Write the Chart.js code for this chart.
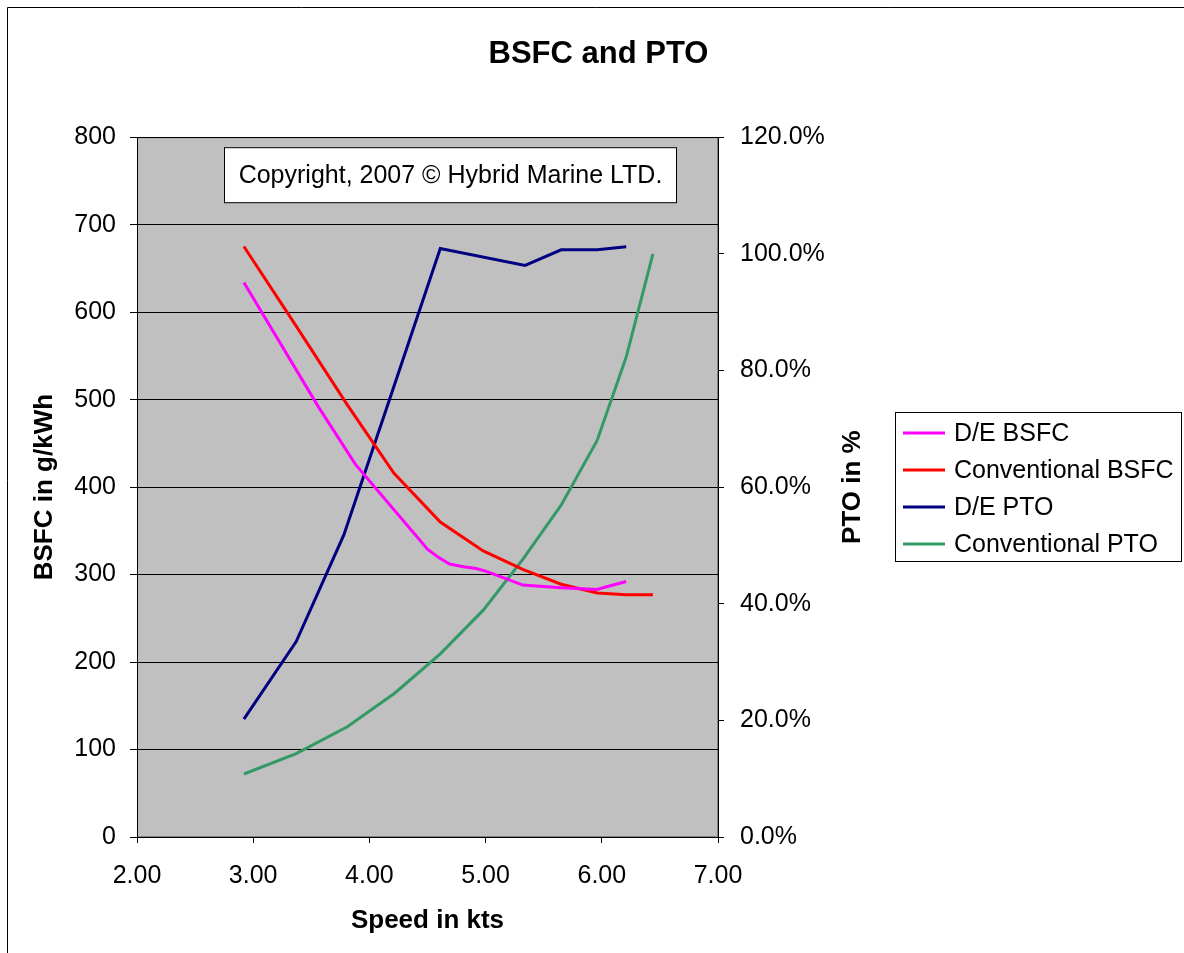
<!DOCTYPE html>
<html>
<head>
<meta charset="utf-8">
<title>BSFC and PTO</title>
<script src="https://cdn.jsdelivr.net/npm/chart.js@4.4.0/dist/chart.umd.min.js"></script>
<style>
    body { margin: 0; background: #fff; }
    #wrap { width: 1184px; height: 953px; }
</style>
</head>
<body>
<div id="wrap"><canvas id="myChart" width="1184" height="953"></canvas></div>
<script>
// values
const deBsfcSpeed = [2.92, 3.56, 3.88, 4.50, 4.59, 4.69, 4.81, 4.92, 5.00, 5.18, 5.32, 5.65, 5.96, 6.01, 6.21];
const deBsfc = [634, 492, 426, 329, 320, 312, 309, 307, 304, 295, 288, 285, 283, 285, 292];

const convBsfcSpeed = [2.92, 3.37, 3.81, 4.21, 4.61, 4.98, 5.32, 5.65, 5.96, 6.21, 6.44];
const convBsfc = [675, 584, 494, 416, 360, 327, 306, 289, 279, 277, 277];

const dePtoSpeed = [2.92, 3.37, 3.78, 4.20, 4.61, 5.34, 5.65, 5.96, 6.21];
const dePto = [20.2, 33.5, 51.8, 76.6, 100.9, 98.0, 100.7, 100.7, 101.2];

const convPtoSpeed = [2.92, 3.37, 3.81, 4.22, 4.61, 4.98, 5.32, 5.65, 5.96, 6.21, 6.44];
const convPto = [10.8, 14.3, 18.9, 24.7, 31.4, 38.9, 47.6, 56.9, 68.0, 82.3, 100.0];

const seriesNames = ['D/E BSFC', 'Conventional BSFC', 'D/E PTO', 'Conventional PTO'];
const seriesColors = ['#FF00FF', '#FF0000', '#000080', '#339966'];

const noteText = 'Copyright, 2007 \u00A9 Hybrid Marine LTD.';

Chart.defaults.font.family = '"Liberation Sans", Arial, sans-serif';
Chart.defaults.font.size = 25;
Chart.defaults.color = '#000';

function pts(xs, ys) {
    return xs.map((x, i) => ({ x: x, y: ys[i] }));
}

function lineSet(i, xs, ys, axis) {
    return {
        label: seriesNames[i],
        data: pts(xs, ys),
        borderColor: seriesColors[i],
        backgroundColor: seriesColors[i],
        borderWidth: 3,
        pointRadius: 0,
        tension: 0,
        yAxisID: axis
    };
}

// background, frame, note box, right title and legend
const decor = {
    id: 'decor',
    beforeDraw(chart) {
        const { ctx, chartArea: a } = chart;
        ctx.save();
        ctx.fillStyle = '#fff';
        ctx.fillRect(0, 0, chart.width, chart.height);
        ctx.strokeStyle = '#000';
        ctx.lineWidth = 1;
        ctx.beginPath();
        ctx.moveTo(7.5, chart.height);
        ctx.lineTo(7.5, 7.5);
        ctx.lineTo(chart.width, 7.5);
        ctx.stroke();
        ctx.fillStyle = '#C0C0C0';
        ctx.fillRect(a.left, a.top, a.right - a.left, a.bottom - a.top);
        ctx.strokeStyle = '#808080';
        ctx.strokeRect(a.left + 0.5, a.top + 0.5, a.right - a.left - 1, a.bottom - a.top - 1);
        ctx.restore();
    },
    afterDraw(chart) {
        const { ctx, chartArea: a } = chart;
        ctx.save();

        // copyright note
        const bx = a.left + 87.5, by = a.top + 10.5, bw = 452, bh = 55;
        ctx.fillStyle = '#fff';
        ctx.fillRect(bx, by, bw, bh);
        ctx.strokeStyle = '#000';
        ctx.lineWidth = 1;
        ctx.strokeRect(bx, by, bw, bh);
        ctx.fillStyle = '#000';
        ctx.font = '25px "Liberation Sans", Arial, sans-serif';
        ctx.textAlign = 'center';
        ctx.textBaseline = 'middle';
        ctx.fillText(noteText, bx + bw / 2, by + bh / 2 + 1);

        // right axis title, reads bottom to top
        ctx.save();
        ctx.translate(853, (a.top + a.bottom) / 2);
        ctx.rotate(-Math.PI / 2);
        ctx.font = 'bold 26px "Liberation Sans", Arial, sans-serif';
        ctx.fillText('PTO in %', 0, 0);
        ctx.restore();

        // legend
        const lx = 895.5, ly = 412.5, lw = 286, lh = 149;
        ctx.fillStyle = '#fff';
        ctx.fillRect(lx, ly, lw, lh);
        ctx.strokeStyle = '#000';
        ctx.strokeRect(lx, ly, lw, lh);
        ctx.font = '25px "Liberation Sans", Arial, sans-serif';
        ctx.textAlign = 'left';
        chart.data.datasets.forEach((ds, i) => {
            const y = 433 + i * 37;
            ctx.strokeStyle = ds.borderColor;
            ctx.lineWidth = 3;
            ctx.beginPath();
            ctx.moveTo(903, y);
            ctx.lineTo(945, y);
            ctx.stroke();
            ctx.fillStyle = '#000';
            ctx.fillText(ds.label, 954, y + 1);
        });
        ctx.restore();
    }
};

const config = {
    type: 'line',
    data: {
        datasets: [
            lineSet(0, deBsfcSpeed, deBsfc, 'y'),
            lineSet(1, convBsfcSpeed, convBsfc, 'y'),
            lineSet(2, dePtoSpeed, dePto, 'y1'),
            lineSet(3, convPtoSpeed, convPto, 'y1')
        ]
    },
    options: {
        responsive: false,
        animation: false,
        events: [],
        layout: { padding: { left: 13, right: 0, top: 0, bottom: 0 } },
        plugins: {
            legend: { display: false },
            tooltip: { enabled: false },
            title: {
                display: true,
                text: 'BSFC and PTO',
                font: { size: 31, weight: 'bold' },
                color: '#000',
                padding: { top: 36, bottom: 64 }
            }
        },
        scales: {
            x: {
                type: 'linear',
                min: 2,
                max: 7,
                ticks: {
                    stepSize: 1,
                    padding: 18,
                    callback: v => Number(v).toFixed(2)
                },
                grid: { drawOnChartArea: false, tickLength: 6, color: '#000' },
                border: { color: '#000' },
                title: {
                    display: true,
                    text: 'Speed in kts',
                    font: { size: 26, weight: 'bold' },
                    padding: { top: 0, bottom: 17 }
                },
                afterFit: s => { s.height = 116; }
            },
            y: {
                position: 'left',
                min: 0,
                max: 800,
                ticks: { stepSize: 100, padding: 14 },
                grid: { color: '#000', tickLength: 7 },
                border: { color: '#000' },
                title: {
                    display: true,
                    text: 'BSFC in g/kWh',
                    font: { size: 26, weight: 'bold' },
                    padding: { top: 16, bottom: 0 }
                },
                afterFit: s => { s.width = 124; }
            },
            y1: {
                position: 'right',
                min: 0,
                max: 120,
                ticks: {
                    stepSize: 20,
                    padding: 16,
                    callback: v => Number(v).toFixed(1) + '%'
                },
                grid: { drawOnChartArea: false, tickLength: 6, color: '#000' },
                border: { color: '#000' },
                afterFit: s => { s.width = 466; }
            }
        }
    },
    plugins: [decor]
};

window.onload = function() {
    const ctx = document.getElementById('myChart').getContext('2d');
    new Chart(ctx, config);
};
</script>
</body>
</html>
